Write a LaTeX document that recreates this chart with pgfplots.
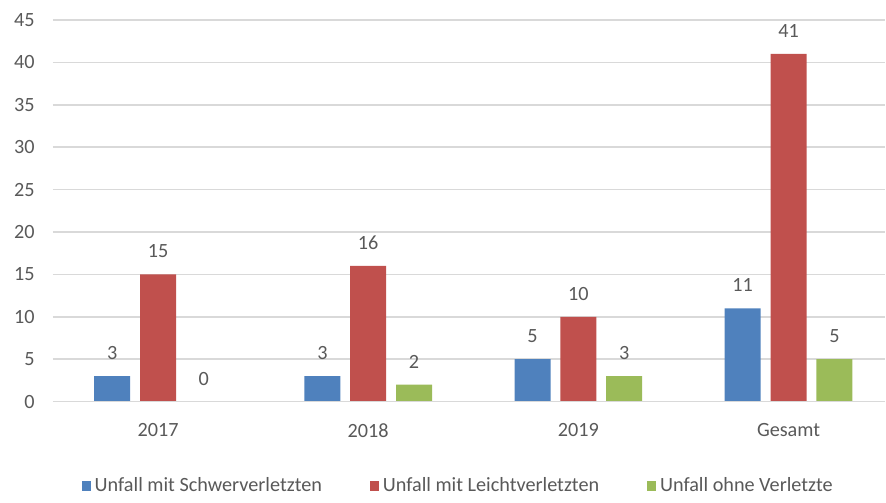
\documentclass[border=0pt]{standalone}
\usepackage{pgfplots}
\pgfplotsset{compat=1.18}
\usepackage{fontspec}
\setmainfont{Carlito}
\definecolor{cblue}{HTML}{4F81BD}
\definecolor{cred}{HTML}{C0504D}
\definecolor{cgreen}{HTML}{9BBB59}
\definecolor{ctext}{HTML}{595959}
\definecolor{cgrid}{HTML}{D9D9D9}
\begin{document}
\begin{tikzpicture}
\begin{axis}[
    scale only axis,
    width=15.2cm, height=6.97cm,
    ybar=0.18cm, bar width=0.657cm,
    xmin=-0.5, xmax=3.46, ymin=0, ymax=45,
    xtick=data, xticklabels={2017,2018,2019,Gesamt},
    ytick={0,5,...,45},
    axis line style={draw=none},
    major tick length=0pt,
    ymajorgrids, grid style={cgrid, line width=0.8pt},
    /pgf/number format/assume math mode=true,
    tick label style={font=\fontsize{10.5}{12}\selectfont, text=ctext},
    yticklabel style={xshift=-6pt},
    xticklabel style={yshift=-8pt},
    nodes near coords,
    nodes near coords style={font=\fontsize{10.5}{12}\selectfont, text=ctext, yshift=5pt},
    legend style={at={(0.488,-0.222)}, anchor=center, draw=none, legend columns=3,
                  font=\fontsize{10.5}{12}\selectfont, text=ctext,
                  /tikz/every even column/.append style={column sep=0.8cm}},
    legend image code/.code={\fill[#1] (0cm,-0.09cm) rectangle (0.17cm,0.09cm);},
  ]
\addplot[draw=none, fill=cblue] coordinates {(0,3) (1,3) (2,5) (3,11)};
\addlegendentry{Unfall mit Schwerverletzten}
\addplot[draw=none, fill=cred] coordinates {(0,15) (1,16) (2,10) (3,41)};
\addlegendentry{Unfall mit Leichtverletzten}
\addplot[draw=none, fill=cgreen] coordinates {(0,0) (1,2) (2,3) (3,5)};
\addlegendentry{Unfall ohne Verletzte}
\draw[cgrid, line width=0.8pt] (axis cs:-0.5,0) -- (axis cs:3.46,0);
\end{axis}
\path (current axis.north west) ++(-0.967cm,0.365cm);
\path (current axis.south east) ++(0,-1.70cm);
\end{tikzpicture}
\end{document}
